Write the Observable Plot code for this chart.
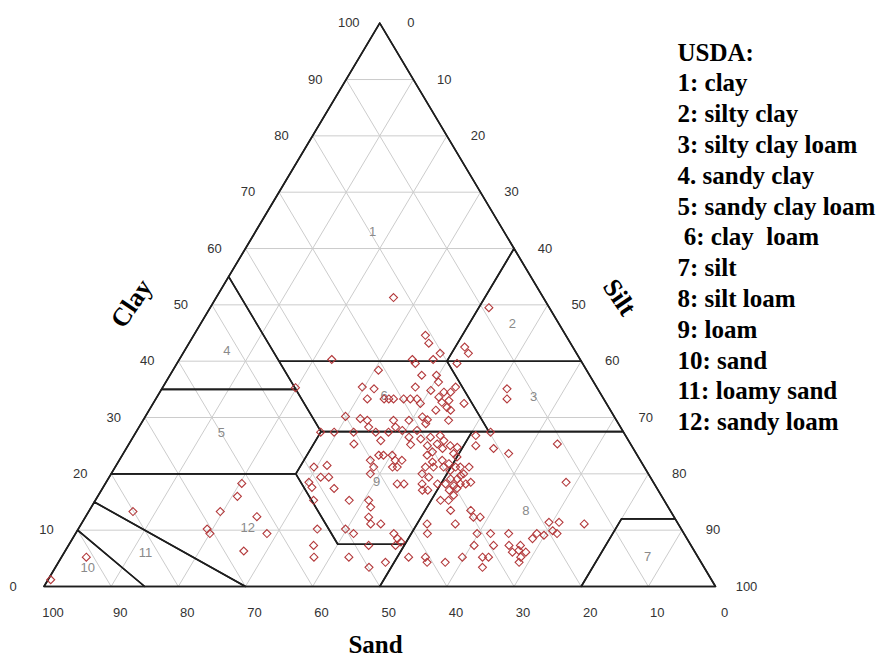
<!DOCTYPE html>
<html><head><meta charset="utf-8">
<script src="https://cdn.jsdelivr.net/npm/d3@7"></script>
<script src="https://cdn.jsdelivr.net/npm/@observablehq/plot@0.6"></script>
<style>
body{margin:0;background:#fff}
svg text{white-space:pre}
</style>
</head><body><div id="chart"></div>
<script>
// Sample compositions (percent clay / percent silt; sand = 100 - clay - silt)
const sampleClay = [44.6,43.2,42.5,41.4,40.3,39.6,41.4,40.3,39.6,38.4,37.5,37.5,36.3,35.4,35.1,33.3,33.3,33.3,33.3,33.3,33.3,33.3,35.4,32.5,34.8,33.6,34.5,34.5,35.4,32.7,33.0,31.8,31.3,31.3,29.5,32.5,30.1,29.6,28.9,35.1,33.3,29.8,29.5,28.3,27.4,29.5,28.3,27.7,29.5,26.5,25.2,27.7,26.2,26.5,26.8,25.3,25.9,25.0,23.9,24.5,25.0,24.7,26.8,25.0,27.4,24.5,22.4,23.3,23.3,21.2,20.0,23.3,22.4,22.4,21.2,21.2,23.3,22.1,21.2,21.2,22.4,21.2,21.8,20.6,23.0,23.6,21.2,21.2,20.0,21.2,19.7,19.1,19.1,18.2,17.9,18.2,18.2,18.5,18.2,18.2,20.0,18.2,19.4,17.1,17.1,18.2,17.1,17.4,16.2,51.3,40.3,35.3,30.2,27.4,27.4,27.4,25.3,25.9,27.4,49.5,25.3,21.2,21.5,19.4,19.4,18.5,17.6,17.4,15.3,15.3,15.3,14.1,12.3,11.1,11.1,10.2,10.2,9.4,7.3,5.2,5.2,7.3,3.4,4.3,9.4,8.5,7.9,15.3,15.3,13.5,11.1,9.4,11.1,5.2,5.2,4.3,4.3,5.2,13.5,12.3,12.3,9.4,9.4,7.3,7.3,5.2,5.2,3.4,9.4,7.3,6.1,7.3,5.2,6.1,4.3,8.5,9.4,9.1,11.4,9.9,11.4,9.4,11.1,18.5,23.6,7.3,1.2,5.2,13.3,13.3,10.2,9.4,6.3,12.4,9.4,6.4,18.3,16.0];
const sampleSilt = [34.5,35.7,41.4,42.5,34.7,35.5,38.3,37.8,41.7,30.6,37.5,39.7,40.6,29.7,31.6,31.5,34.0,34.7,35.4,36.9,37.9,38.9,37.6,39.8,40.2,42.0,42.3,43.3,43.6,42.9,43.8,44.1,42.7,44.9,45.5,46.3,41.3,42.3,42.4,51.4,52.3,32.2,33.4,34.2,35.7,37.3,38.2,39.5,39.6,41.1,42.0,41.7,43.0,44.3,45.6,45.9,46.6,44.6,45.9,47.1,48.0,49.2,50.9,51.8,52.8,54.7,37.4,38.2,38.9,38.5,38.6,40.2,41.1,42.1,41.3,42.0,45.4,46.8,46.2,47.4,48.1,48.9,49.4,50.2,50.0,49.2,50.7,51.4,52.5,52.7,52.2,52.0,51.0,50.7,52.1,52.9,53.7,54.3,43.5,44.5,46.3,47.2,47.6,47.8,48.6,49.5,51.8,52.8,52.9,26.4,22.7,19.8,29.8,27.5,29.5,32.4,33.5,37.2,37.6,41.5,63.8,29.6,31.4,31.5,32.7,30.2,31.1,34.5,32.5,37.8,40.7,41.6,42.2,43.1,44.6,35.6,39.8,41.4,36.5,37.6,42.8,44.7,46.7,48.7,47.4,48.4,49.2,51.4,52.6,53.8,51.5,52.4,55.7,51.7,54.2,54.9,57.6,59.7,56.8,57.8,58.8,59.8,61.8,63.3,60.4,62.7,63.6,63.6,64.5,65.6,66.7,67.3,68.4,68.7,68.6,68.5,68.7,69.9,69.5,70.8,71.0,71.7,74.9,68.5,57.4,48.7,0.4,3.7,6.6,19.6,19.2,20.0,26.6,25.5,28.5,67.5,20.3,20.8];

const gridSteps = [10,20,30,40,50,60,70,80,90];
const tickValues = [0,10,20,30,40,50,60,70,80,90,100];

// USDA texture classes: vertices as [sand, silt, clay]
const classNumbers = [1,2,3,4,5,6,7,8,9,10,11,12];
const classPolygons = [
  [[0,0,100],[45,0,55],[45,15,40],[20,40,40],[0,40,60]],
  [[0,40,60],[20,40,40],[0,60,40]],
  [[0,60,40],[20,40,40],[20,52.5,27.5],[0,72.5,27.5]],
  [[45,0,55],[65,0,35],[45,20,35]],
  [[65,0,35],[45,20,35],[45,27.5,27.5],[52.5,27.5,20],[80,0,20]],
  [[45,15,40],[20,40,40],[20,52.5,27.5],[45,27.5,27.5]],
  [[0,100,0],[20,80,0],[8,80,12],[0,88,12]],
  [[50,50,0],[20,80,0],[8,80,12],[0,88,12],[0,72.5,27.5],[22.5,50,27.5]],
  [[45,27.5,27.5],[22.5,50,27.5],[42.5,50,7.5],[52.5,40,7.5],[52.5,27.5,20]],
  [[100,0,0],[90,0,10],[85,15,0]],
  [[90,0,10],[85,0,15],[70,30,0],[85,15,0]],
  [[85,0,15],[80,0,20],[52.5,27.5,20],[52.5,40,7.5],[42.5,50,7.5],[50,50,0],[70,30,0]]
];
// where each class number is printed, as [sand, silt, clay]
const classLabelSpots = [
  [19.6,17.5,62.9],[6.9,46.4,46.7],[10.3,56.1,33.6],[51.8,6.3,41.9],[60,12.8,27.2],[32.4,33.7,33.9],
  [7.5,87.3,5.2],[21.5,65,13.5],[41.2,40.3,18.5],[91.8,4.8,3.4],[81.9,12.1,6],[64.4,25.1,10.5]
];
const legendLabels = ["USDA:","1: clay","2: silty clay","3: silty clay loam","4. sandy clay","5: sandy clay loam"," 6: clay  loam","7: silt","8: silt loam","9: loam","10: sand","11: loamy sand","12: sandy loam"];

// ternary -> cartesian data coordinates
const tx = (sand, silt, clay) => silt + clay / 2;
const ty = (sand, silt, clay) => clay;

const samples = sampleClay.map((c, i) => ({clay: c, silt: sampleSilt[i], sand: 100 - c - sampleSilt[i]}));

const grid = [];
for (const v of gridSteps) {
  grid.push({a: [100 - v, 0, v], b: [0, 100 - v, v]});          // clay = v
  grid.push({a: [v, 100 - v, 0], b: [v, 0, 100 - v]});          // sand = v
  grid.push({a: [100 - v, v, 0], b: [0, v, 100 - v]});          // silt = v
}

const boundary = [];
classPolygons.forEach((poly, k) => {
  [...poly, poly[0]].forEach(p => boundary.push({k, p}));
});
const outline = [[100,0,0],[0,100,0],[0,0,100],[100,0,0]];

const tickFont = {fontFamily: "Liberation Sans, Arial, sans-serif", fontSize: 13, fill: "#333"};
const titleFont = {fontFamily: "Liberation Serif, Times New Roman, serif", fontSize: 26, fontWeight: "bold", fill: "#000"};

const plot = Plot.plot({
  width: 881,
  height: 659,
  margin: 0,
  x: {domain: [0, 100], range: [43.5, 715], axis: null},
  y: {domain: [0, 100], range: [586, 22.7], axis: null},
  style: {background: "#fff", overflow: "visible"},
  marks: [
    Plot.link(grid, {x1: d => tx(...d.a), y1: d => ty(...d.a), x2: d => tx(...d.b), y2: d => ty(...d.b), stroke: "#cccccc", strokeWidth: 1}),
    Plot.line(boundary, {x: d => tx(...d.p), y: d => ty(...d.p), z: "k", stroke: "#1e1e1e", strokeWidth: 1.6, curve: "linear"}),
    Plot.line(outline, {x: d => tx(...d), y: d => ty(...d), stroke: "#1e1e1e", strokeWidth: 1.6}),
    Plot.text(classLabelSpots, {x: d => tx(...d), y: d => ty(...d), text: (d, i) => String(classNumbers[i]), fill: "#8a8a8a", fontSize: 13, fontFamily: "Liberation Sans, Arial, sans-serif"}),
    Plot.dot(samples, {x: d => tx(d.sand, d.silt, d.clay), y: d => ty(d.sand, d.silt, d.clay), symbol: "diamond2", r: 3.6, stroke: "#b3393b", strokeWidth: 1.1, fill: "none"}),
    // axis tick labels
    Plot.text(tickValues, {x: d => d / 2, y: d => d, text: d => String(d), dx: -31, ...tickFont}),
    Plot.text(tickValues, {x: d => d + (100 - d) / 2, y: d => 100 - d, text: d => String(d), dx: 31, ...tickFont}),
    Plot.text(tickValues, {x: d => 100 - d, y: 0, text: d => String(d), dx: 9, dy: 26, ...tickFont}),
    // axis titles
    Plot.text(["Clay"], {frameAnchor: "top-left", dx: 131, dy: 303, rotate: -56, textAnchor: "middle", lineAnchor: "middle", ...titleFont}),
    Plot.text(["Silt"], {frameAnchor: "top-left", dx: 619, dy: 297, rotate: 56, textAnchor: "middle", lineAnchor: "middle", ...titleFont}),
    Plot.text(["Sand"], {frameAnchor: "top-left", dx: 375, dy: 644, textAnchor: "middle", lineAnchor: "middle", ...titleFont, fontSize: 25}),
    // legend
    ...legendLabels.map((t, i) => Plot.text([t], {frameAnchor: "top-left", dx: 677, dy: 52 + 30.8 * i, textAnchor: "start", lineAnchor: "middle", ...titleFont, fontSize: 25}))
  ]
});
document.getElementById("chart").appendChild(plot);
</script>
</body></html>
